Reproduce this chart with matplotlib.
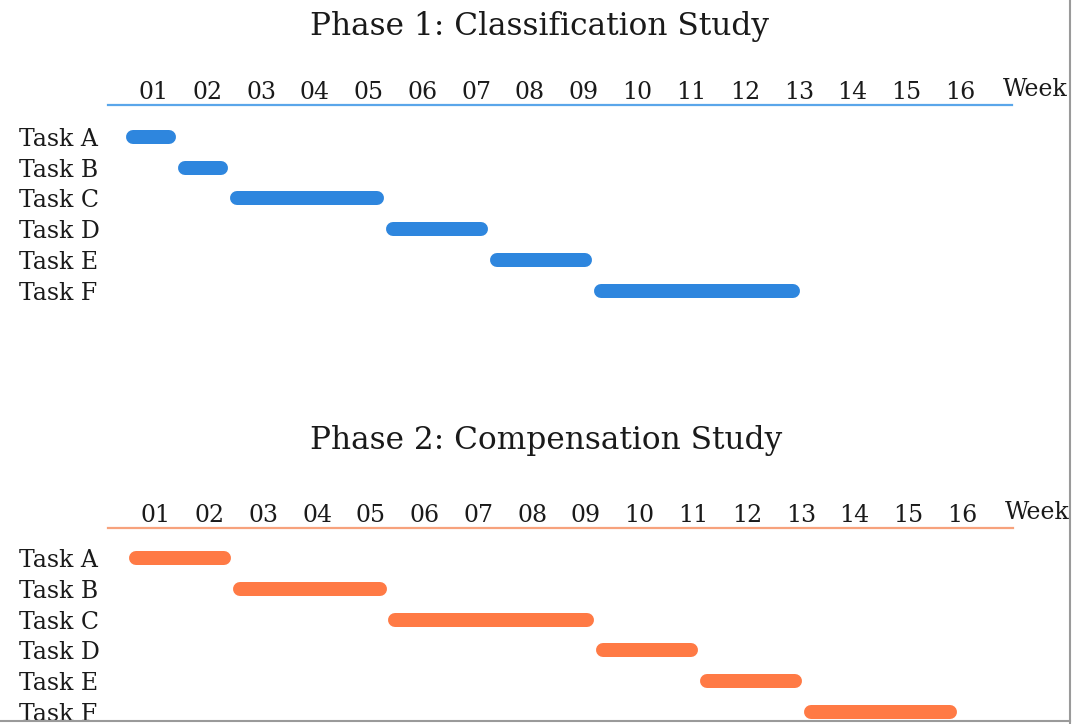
import matplotlib
matplotlib.use("Agg")
import matplotlib.pyplot as plt
import numpy as np
from matplotlib.lines import Line2D
from matplotlib.transforms import offset_copy

# ---------------- data ----------------
tasks = ["Task A", "Task B", "Task C", "Task D", "Task E", "Task F"]
week_labels = [f"{w:02d}" for w in range(1, 17)]

phase1_title = "Phase 1: Classification Study"
phase1_start = [1, 2, 3, 6, 8, 10]    # first week of each task
phase1_end = [1, 2, 5, 7, 9, 13]      # last week of each task

phase2_title = "Phase 2: Compensation Study"
phase2_start = [1, 3, 6, 10, 12, 14]
phase2_end = [2, 5, 9, 11, 13, 16]

# ---------------- style ----------------
W, H, DPI = 1075, 724, 100
plt.rcParams['font.family'] = ['DejaVu Serif']
TXT = "#1a1a1a"
BLUE, BLUE_LINE = "#2E86DE", "#5AA6EA"
ORANGE, ORANGE_LINE = "#FF7A45", "#F7A27C"
LAB_FS = 17
TITLE_FS = 22.5

fig = plt.figure(figsize=(W / DPI, H / DPI), dpi=DPI)
fig.patch.set_facecolor("white")


def fx(px):
    return px / W


def fy(py):
    return 1 - py / H


def phase(title, title_y, title_x, starts, ends, color, line_color,
          left, top, bottom, px_week, row0, row_step, lab0, lab_step,
          line_x0, line_x1):
    right = 1070
    ax = fig.add_axes([fx(left), fy(bottom), (right - left) / W, (bottom - top) / H])
    ax.set_xlim(0, (right - left) / px_week)
    ax.set_ylim((bottom - row0) / row_step, -(row0 - top) / row_step)
    for s in ax.spines.values():
        s.set_visible(False)
    ax.set_facecolor("none")

    # task labels (left aligned)
    ax.set_yticks(range(len(tasks)))
    ax.set_yticklabels(tasks, fontsize=LAB_FS, color=TXT)
    ax.tick_params(axis="y", length=0, pad=(left - 19) * 72 / DPI)
    for lab in ax.get_yticklabels():
        lab.set_horizontalalignment("left")
    ax.set_xticks([])

    # bars with rounded caps
    lw_px = 14
    cap = (lw_px / 2) / px_week
    gap = 1.0 / px_week
    for i, (s, e) in enumerate(zip(starts, ends)):
        x0 = (s - 1) + cap + gap
        x1 = e - cap - gap
        ax.plot([x0, x1], [i, i], color=color, lw=lw_px * 72 / DPI,
                solid_capstyle="round", clip_on=False)

    # week labels on a twin axis
    ax2 = ax.twiny()
    for s in ax2.spines.values():
        s.set_visible(False)
    off = lab0 - 0.5 * lab_step
    ax2.set_xlim((left - off) / lab_step, (right - off) / lab_step)
    pos = np.arange(1, 17) - 0.5
    ax2.set_xticks(pos)
    ax2.set_xticklabels(week_labels, fontsize=LAB_FS, color=TXT)
    ax2.tick_params(axis="x", length=0, pad=1)
    ax2.text(16.5 - 0.2, 1.0, "Week",
             transform=offset_copy(ax2.get_xaxis_transform(), fig=fig, y=3, units="points"),
             fontsize=LAB_FS, color=TXT, ha="left", va="bottom")

    # horizontal rule
    fig.add_artist(Line2D([fx(line_x0), fx(line_x1)], [fy(top), fy(top)],
                          color=line_color, lw=1.6))
    fig.text(fx(title_x), fy(title_y), title, fontsize=TITLE_FS, color=TXT,
             ha="center", va="center")
    return ax


phase(phase1_title, 26, 539, phase1_start, phase1_end, BLUE, BLUE_LINE,
      left=125, top=105, bottom=330, px_week=52.0, row0=137, row_step=30.7,
      lab0=153.5, lab_step=53.77, line_x0=108, line_x1=1012)
phase(phase2_title, 440, 546, phase2_start, phase2_end, ORANGE, ORANGE_LINE,
      left=128, top=528, bottom=724, px_week=51.9, row0=558, row_step=30.8,
      lab0=156, lab_step=53.73, line_x0=108, line_x1=1013)

# scanned-page border
fig.add_artist(Line2D([fx(1070), fx(1070)], [0, 1], color="#9a9a9a", lw=1.5, zorder=10))
fig.add_artist(Line2D([0, fx(1070)], [fy(721), fy(721)], color="#9a9a9a", lw=1.5, zorder=10))

fig.savefig("out.png", dpi=DPI, facecolor="white")
